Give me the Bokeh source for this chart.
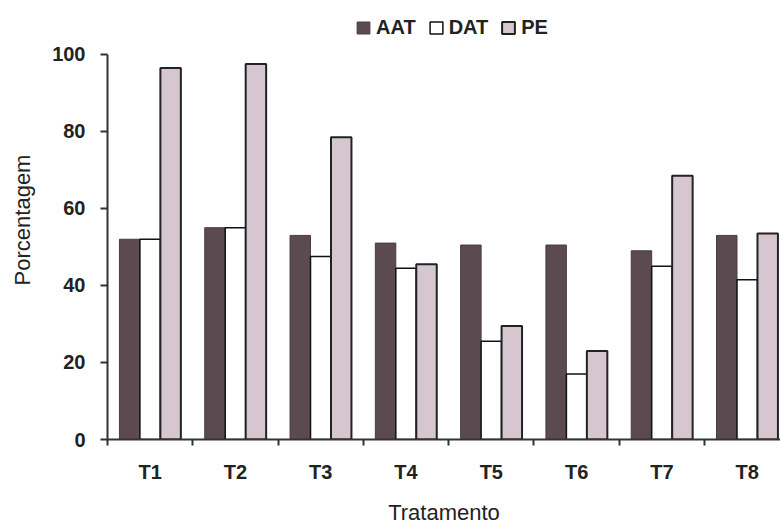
from bokeh.plotting import figure
from bokeh.models import ColumnDataSource, FixedTicker, Range1d, Legend, LegendItem
from bokeh.embed import file_html
from bokeh.resources import INLINE

# ---- data ----
categories = ["T1", "T2", "T3", "T4", "T5", "T6", "T7", "T8"]
aat = [52, 55, 53, 51, 50.5, 50.5, 49, 53]
dat = [52, 55, 47.5, 44.5, 25.5, 17, 45, 41.5]
pe = [96.5, 97.5, 78.5, 45.5, 29.5, 23, 68.5, 53.5]
y_ticks = [0, 20, 40, 60, 80, 100]

FONT = "Liberation Sans"
centers = [i + 0.5 for i in range(len(categories))]
bw = 0.24

src = ColumnDataSource(dict(
    x_aat=[c - bw for c in centers],
    x_dat=centers,
    x_pe=[c + bw for c in centers],
    aat=aat, dat=dat, pe=pe,
))

# frame runs to the top of the page; the y axis itself is bounded to 0..100
p = figure(width=780, height=527, output_backend="svg", toolbar_location=None,
           x_range=Range1d(0, 7.89), y_range=Range1d(0, 114),
           min_border_left=107, min_border_right=0, min_border_top=0,
           min_border_bottom=87)
p.outline_line_color = None
p.xgrid.grid_line_color = None
p.ygrid.grid_line_color = None
p.background_fill_color = "white"

r_aat = p.vbar(x="x_aat", top="aat", width=bw, source=src,
               fill_color="#5b4a50", line_color="#4a3c41", line_width=1)
r_dat = p.vbar(x="x_dat", top="dat", width=bw, source=src,
               fill_color="white", line_color="#111111", line_width=1.5)
r_pe = p.vbar(x="x_pe", top="pe", width=bw, source=src,
              fill_color="#d6c6d0", line_color="#222222", line_width=2)

# x axis: labels at group centres, ticks at group boundaries
xa = p.xaxis[0]
xa.ticker = FixedTicker(ticks=centers, minor_ticks=list(range(0, 9)))
xa.major_label_overrides = {c: lab for c, lab in zip(centers, categories)}
xa.major_tick_out = 0
xa.major_tick_in = 0
xa.minor_tick_out = 6
xa.minor_tick_in = 0
xa.minor_tick_line_color = "#333333"
xa.minor_tick_line_width = 2
xa.axis_line_color = "#333333"
xa.axis_line_width = 2
xa.major_label_standoff = 15
xa.major_label_text_font = FONT
xa.major_label_text_font_size = "20px"
xa.major_label_text_font_style = "bold"
xa.major_label_text_color = "#222222"
xa.axis_label = "Tratamento"
xa.axis_label_text_font = FONT
xa.axis_label_text_font_size = "22px"
xa.axis_label_text_font_style = "normal"
xa.axis_label_text_color = "#222222"
xa.axis_label_standoff = 14

ya = p.yaxis[0]
ya.bounds = (0, 100)
ya.ticker = FixedTicker(ticks=y_ticks, minor_ticks=[])
ya.major_tick_out = 7
ya.major_tick_in = 0
ya.major_tick_line_color = "#333333"
ya.major_tick_line_width = 2
ya.axis_line_color = "#333333"
ya.axis_line_width = 2
ya.major_label_standoff = 15
ya.major_label_text_font = FONT
ya.major_label_text_font_size = "20px"
ya.major_label_text_font_style = "bold"
ya.major_label_text_color = "#222222"
ya.axis_label = "Porcentagem"
ya.axis_label_text_font = FONT
ya.axis_label_text_font_size = "22px"
ya.axis_label_text_font_style = "normal"
ya.axis_label_text_color = "#222222"
ya.axis_label_standoff = 14

legend = Legend(items=[
    LegendItem(label="AAT", renderers=[r_aat]),
    LegendItem(label="DAT", renderers=[r_dat]),
    LegendItem(label="PE", renderers=[r_pe]),
], orientation="horizontal", location=(248, 400))
legend.glyph_width = 16
legend.glyph_height = 15
legend.label_standoff = 5
legend.spacing = 12
legend.padding = 0
legend.margin = 0
legend.border_line_color = None
legend.background_fill_alpha = 0
legend.label_text_font = FONT
legend.label_text_font_size = "20px"
legend.label_text_font_style = "bold"
legend.label_text_color = "#222222"
p.add_layout(legend, "center")

open("out.html", "w").write(file_html(p, INLINE))
